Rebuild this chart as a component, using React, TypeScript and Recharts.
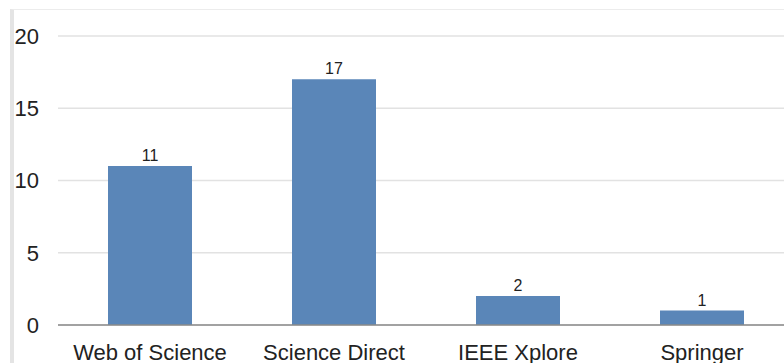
import React from "react";
import { BarChart, Bar, XAxis, YAxis, CartesianGrid, LabelList } from "recharts";

const categories = ["Web of Science", "Science Direct", "IEEE Xplore", "Springer"];
const counts = [11, 17, 2, 1];
const yTicks = [0, 5, 10, 15, 20];

const data = categories.map((name, i) => ({ name, value: counts[i] }));

const FONT = '"Liberation Sans", Arial, Helvetica, sans-serif';

export default function App() {
  return (
    <div style={{ position: "absolute", left: 0, top: 0, width: 784, height: 363, overflow: "hidden", background: "#fff", fontFamily: FONT }}>
      <div style={{ position: "absolute", left: 10, top: 9, width: 800, height: 400, borderLeft: "4px solid #e4e4e4", borderTop: "1px solid #ececec" }} />
      <div style={{ position: "absolute", left: 0, top: 0 }}>
        <BarChart width={794} height={363} data={data} margin={{ top: 36, right: 0, bottom: 8, left: 0 }} barSize={84}>
          <CartesianGrid vertical={false} stroke="#e2e2e2" strokeWidth={1.5} />
          <XAxis
            dataKey="name"
            axisLine={{ stroke: "#8a8a8a", strokeWidth: 1.5 }}
            tickLine={false}
            tick={{ fill: "#222", fontSize: 22, fontFamily: FONT }}
            tickMargin={13}
            interval={0}
          />
          <YAxis
            domain={[0, 20]}
            ticks={yTicks}
            axisLine={false}
            tickLine={false}
            width={58}
            tickMargin={13}
            tick={{ fill: "#222", fontSize: 22, fontFamily: FONT }}
          />
          <Bar dataKey="value" fill="#5a86b8" isAnimationActive={false}>
            <LabelList dataKey="value" position="top" offset={5} style={{ fill: "#222", fontSize: 16, fontFamily: FONT }} />
          </Bar>
        </BarChart>
      </div>
    </div>
  );
}
